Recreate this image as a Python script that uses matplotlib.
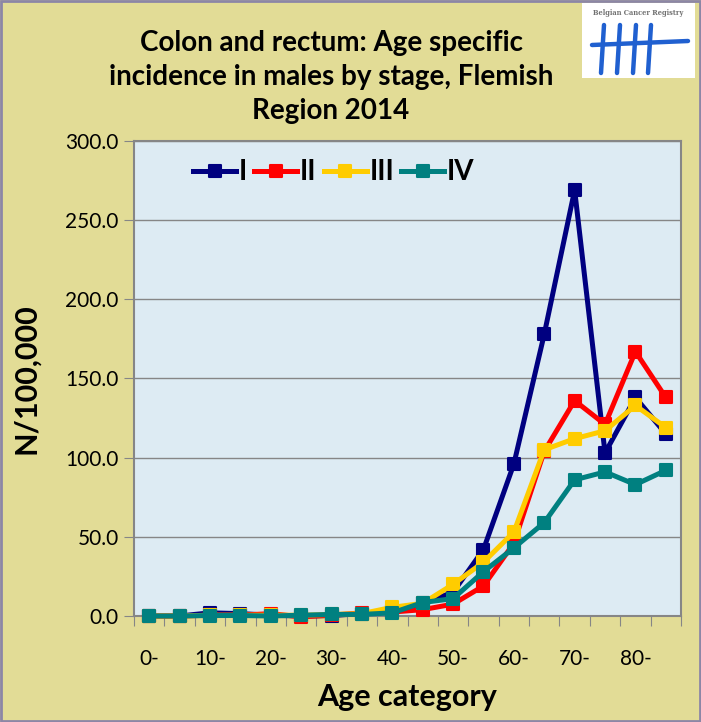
import matplotlib
matplotlib.use("Agg")
import matplotlib.pyplot as plt
from matplotlib.markers import MarkerStyle
from matplotlib.patches import Rectangle
from matplotlib.lines import Line2D

plt.rcParams["font.family"] = ["Lato", "DejaVu Sans"]

# age categories (5-year bands), labels shown every other one
age_groups = ["0-", "5-", "10-", "15-", "20-", "25-", "30-", "35-", "40-",
              "45-", "50-", "55-", "60-", "65-", "70-", "75-", "80-", "85-"]

stage_i = [0, 0, 2.0, 1.5, 0.5, 0, 0.3, 1.5, 3, 8, 15, 42, 96, 178, 269, 103, 138, 115]
stage_ii = [0, 0, 0.5, 0.5, 1.5, -0.5, 0.5, 2, 2.5, 4, 7.5, 19, 46, 104, 136, 121, 167, 138]
stage_iii = [0, 0, 0.5, 0.5, 0.5, 0.5, 1, 1.5, 5.5, 8, 20, 34, 53, 105, 112, 117, 133, 119]
stage_iv = [0, 0, 0.3, 0.3, 0, 0.5, 1, 1, 2, 8.5, 11, 28, 43, 59, 86, 91, 83, 92]

stage_labels = ["I", "II", "III", "IV"]
stage_colors = ["#000080", "#FF0000", "#FFCC00", "#008080"]

BG = "#E2DC96"
PLOT_BG = "#DDEBF3"
GRID = "#868686"

fig = plt.figure(figsize=(7.01, 7.22), dpi=100, facecolor=BG)
ax = fig.add_axes([134 / 701, 1 - 616 / 722, (681 - 134) / 701, (616 - 141) / 722])
ax.set_facecolor(PLOT_BG)

x = list(range(len(age_groups)))
mk = MarkerStyle("s", joinstyle="round")
for vals, lab, col in zip([stage_i, stage_ii, stage_iii, stage_iv], stage_labels, stage_colors):
    ax.plot(x, vals, color=col, lw=3.6, marker=mk, ms=9, mec=col, mew=1.5,
            label=lab, clip_on=False, solid_joinstyle="round", zorder=3)

ax.set_xlim(-0.5, len(age_groups) - 0.5)
ax.set_ylim(0, 300)
ax.set_yticks(range(0, 301, 50))
ax.set_yticklabels([f"{v:.1f}" for v in range(0, 301, 50)], fontsize=15)
ax.yaxis.grid(True, color=GRID, lw=1)
ax.set_axisbelow(True)

ax.set_xticks([i - 0.5 for i in range(len(age_groups) + 1)], minor=False)
ax.set_xticklabels([])
ax.set_xticks(x[::2], minor=True)
ax.set_xticklabels(age_groups[::2], minor=True, fontsize=15)
ax.tick_params(axis="x", which="major", length=7, color=GRID, direction="out")
ax.tick_params(axis="x", which="minor", length=0, pad=24)
ax.tick_params(axis="y", length=7, color=GRID, pad=4)

for s in ax.spines.values():
    s.set_color(GRID)
    s.set_linewidth(1.5)

ax.set_ylabel("N/100,000", fontsize=22, fontweight="bold", labelpad=18)
ax.set_xlabel("Age category", fontsize=22, fontweight="bold", labelpad=10)

leg = ax.legend(loc="upper left", bbox_to_anchor=(0.088, 0.985), ncol=4, frameon=False,
                prop={"size": 20, "weight": "bold"}, handlelength=1.55,
                handletextpad=0.1, columnspacing=0.25, borderaxespad=0)

fig.text(331 / 701, 1 - 77 / 722,
         "Colon and rectum: Age specific\nincidence in males by stage, Flemish\nRegion 2014",
         ha="center", va="center", fontsize=20, fontweight="bold", linespacing=1.38)

# logo box
fig.patches.append(Rectangle((582 / 701, 1 - 78 / 722), 113 / 701, 75 / 722,
                             transform=fig.transFigure, facecolor="white", edgecolor="none"))
fig.text(638 / 701, 1 - 13 / 722, "Belgian Cancer Registry", ha="center", va="center",
         fontsize=4.8, fontweight="bold", color="#707070", family="DejaVu Serif")
logo_blue = "#2060D0"
for xs in [604, 620, 636, 651]:
    fig.lines.append(Line2D([xs / 701, (xs - 3) / 701], [1 - 25 / 722, 1 - 73 / 722],
                            transform=fig.transFigure, color=logo_blue, lw=3.2,
                            solid_capstyle="round"))
fig.lines.append(Line2D([592 / 701, 688 / 701], [1 - 45 / 722, 1 - 41 / 722],
                        transform=fig.transFigure, color=logo_blue, lw=3.2,
                        solid_capstyle="round"))

# outer border
fig.patches.append(Rectangle((0.0015, 0.0015), 0.997, 0.997, transform=fig.transFigure,
                             facecolor="none", edgecolor="#8C86A6", lw=2))

fig.savefig("out.png", dpi=100, facecolor=BG)
